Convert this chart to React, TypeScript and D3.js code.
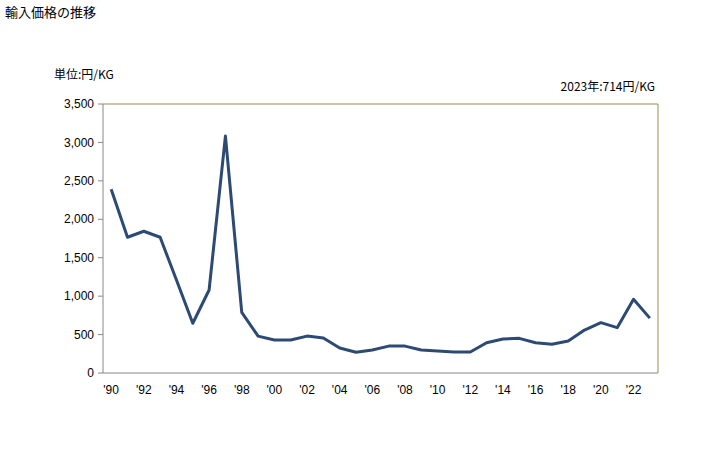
import * as d3 from "d3";
import { useEffect, useRef } from "react";

const years = [
  1990, 1991, 1992, 1993, 1994, 1995, 1996, 1997, 1998, 1999, 2000, 2001,
  2002, 2003, 2004, 2005, 2006, 2007, 2008, 2009, 2010, 2011, 2012, 2013,
  2014, 2015, 2016, 2017, 2018, 2019, 2020, 2021, 2022, 2023,
];
const prices = [
  2390, 1766, 1844, 1766, 1210, 647, 1080, 3083, 790, 480, 430, 430,
  480, 455, 325, 270, 300, 350, 350, 300, 286, 273, 273, 394,
  442, 451, 394, 373, 416, 559, 655, 590, 959, 714,
];
const yTicks = [0, 500, 1000, 1500, 2000, 2500, 3000, 3500];

const font = "'Liberation Sans', 'Noto Sans CJK JP', sans-serif";
const jpFont = "'Noto Sans CJK JP', sans-serif";

const App = () => {
  const svgRef = useRef<SVGSVGElement>(null);

  useEffect(() => {
    const svg = d3.select(svgRef.current);
    svg.selectAll("*").remove();

    const left = 103;
    const right = 658;
    const top = 104;
    const bottom = 373;

    const x = d3
      .scaleBand<number>()
      .domain(years)
      .range([left, right]);
    const y = d3.scaleLinear().domain([0, 3500]).range([bottom, top]);

    // title
    svg
      .append("text")
      .attr("x", 5)
      .attr("y", 17)
      .style("font-family", jpFont)
      .style("font-size", "13px")
      .text("輸入価格の推移");

    svg
      .append("text")
      .attr("x", 54)
      .attr("y", 79)
      .style("font-family", jpFont)
      .style("font-size", "12px")
      .text("単位:円/KG");

    svg
      .append("text")
      .attr("x", 655)
      .attr("y", 91)
      .attr("text-anchor", "end")
      .style("font-family", jpFont)
      .style("font-size", "12px")
      .text("2023年:714円/KG");

    // frame: top/right olive, left/bottom gray
    svg
      .append("path")
      .attr("d", `M${left},${top}H${right}V${bottom}`)
      .attr("fill", "none")
      .attr("stroke", "#9a8f4e")
      .attr("stroke-width", 1);
    svg
      .append("path")
      .attr("d", `M${left},${top}V${bottom}H${right}`)
      .attr("fill", "none")
      .attr("stroke", "#888")
      .attr("stroke-width", 1);

    // y ticks
    const yg = svg.append("g");
    yTicks.forEach((t) => {
      yg.append("line")
        .attr("x1", left - 5)
        .attr("x2", left)
        .attr("y1", y(t))
        .attr("y2", y(t))
        .attr("stroke", "#888");
      yg.append("text")
        .attr("x", left - 9)
        .attr("y", y(t))
        .attr("dy", "0.35em")
        .attr("text-anchor", "end")
        .style("font-family", font)
        .style("font-size", "12px")
        .text(d3.format(",")(t));
    });

    // x labels
    years
      .filter((yr) => yr % 2 === 0)
      .forEach((yr) => {
        svg
          .append("text")
          .attr("x", (x(yr) as number) + x.bandwidth() / 2)
          .attr("y", 394)
          .attr("text-anchor", "middle")
          .style("font-family", font)
          .style("font-size", "12px")
          .text("'" + String(yr).slice(2));
      });

    const line = d3
      .line<number>()
      .x((_, i) => (x(years[i]) as number) + x.bandwidth() / 2)
      .y((d) => y(d));

    svg
      .append("path")
      .datum(prices)
      .attr("d", line)
      .attr("fill", "none")
      .attr("stroke", "#2c4a74")
      .attr("stroke-width", 3)
      .attr("stroke-linejoin", "round");
  }, []);

  return (
    <svg
      ref={svgRef}
      width={728}
      height={450}
      style={{ position: "absolute", left: 0, top: 0 }}
    ></svg>
  );
};

export default App;
